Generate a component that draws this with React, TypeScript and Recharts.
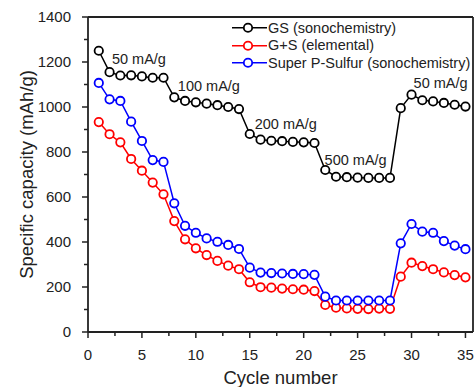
import React from 'react';
import {
  LineChart,
  Line,
  XAxis,
  YAxis,
  ReferenceLine,
  ReferenceDot,
  Legend,
} from 'recharts';

const cycles = [1, 2, 3, 4, 5, 6, 7, 8, 9, 10, 11, 12, 13, 14, 15, 16, 17, 18, 19, 20, 21, 22, 23, 24, 25, 26, 27, 28, 29, 30, 31, 32, 33, 34, 35];

const gsSono = [1250, 1155, 1140, 1141, 1136, 1130, 1130, 1043, 1027, 1021, 1015, 1008, 1000, 991, 880, 855, 850, 848, 845, 843, 840, 720, 690, 688, 686, 685, 685, 685, 995, 1055, 1030, 1025, 1018, 1010, 1002];

const gsElemental = [933, 879, 843, 769, 717, 664, 612, 493, 412, 372, 342, 316, 295, 279, 221, 199, 197, 193, 190, 188, 182, 120, 108, 105, 103, 102, 104, 103, 246, 308, 293, 279, 265, 253, 243];

const superPSono = [1107, 1034, 1027, 935, 849, 764, 756, 572, 472, 441, 416, 401, 387, 369, 286, 264, 262, 260, 258, 257, 254, 157, 140, 140, 140, 140, 140, 140, 394, 480, 446, 441, 404, 384, 368];

const seriesNames = ['GS (sonochemistry)', 'G+S (elemental)', 'Super P-Sulfur (sonochemistry)'];
const seriesKeys = ['gs', 'gps', 'sp'];
const seriesColors = ['#000000', '#ff0000', '#0000ff'];

const xTicks = [0, 2.5, 5, 7.5, 10, 12.5, 15, 17.5, 20, 22.5, 25, 27.5, 30, 32.5, 35];
const yTicks = [0, 100, 200, 300, 400, 500, 600, 700, 800, 900, 1000, 1100, 1200, 1300, 1400];

const annotationTexts = ['50 mA/g', '100 mA/g', '200 mA/g', '500 mA/g', '50 mA/g'];
const annotationX = [2.22, 8.33, 15.46, 21.94, 30.19];
const annotationY = [1213, 1093, 924, 764, 1107];

const data = cycles.map((c, i) => ({
  cycle: c,
  gs: gsSono[i],
  gps: gsElemental[i],
  sp: superPSono[i],
}));

const FONT = '"Liberation Sans", Arial, Helvetica, sans-serif';
const AXIS = '#222222';

const XTick = (props: any) => {
  const { x, y, payload } = props;
  const v = payload.value;
  const major = Math.abs(v % 5) < 1e-6;
  return (
    <g>
      <line x1={x} x2={x} y1={y} y2={y + (major ? 6 : 4)} stroke={AXIS} strokeWidth={1.5} />
      {major && (
        <text x={x} y={y + 28} textAnchor="middle" fontSize={15} fontFamily={FONT} fill="#222">
          {v}
        </text>
      )}
    </g>
  );
};

const YTick = (props: any) => {
  const { x, y, payload } = props;
  const v = payload.value;
  const major = v % 200 === 0;
  return (
    <g>
      <line x1={x} x2={x - (major ? 6 : 4)} y1={y} y2={y} stroke={AXIS} strokeWidth={1.5} />
      {major && (
        <text x={x - 17} y={y + 5} textAnchor="end" fontSize={15} fontFamily={FONT} fill="#222">
          {v}
        </text>
      )}
    </g>
  );
};

const LegendContent = () => (
  <div style={{ fontFamily: FONT, fontSize: 14.5, color: '#222' }}>
    {seriesNames.map((name, i) => (
      <div key={name} style={{ display: 'flex', alignItems: 'center', height: 17.5, whiteSpace: 'nowrap' }}>
        <svg width={38} height={17.5} style={{ display: 'block' }}>
          <line x1={2} x2={37} y1={8.75} y2={8.75} stroke={seriesColors[i]} strokeWidth={1.5} />
          <circle cx={18} cy={8.75} r={4.2} fill="#fff" stroke={seriesColors[i]} strokeWidth={1.8} />
        </svg>
        <span>{name}</span>
      </div>
    ))}
  </div>
);

const AnnLabel = (text: string) => (props: any) => {
  const vb = props.viewBox || {};
  return (
    <text x={vb.x} y={vb.y + 5} textAnchor="start" fontSize={14.5} fontFamily={FONT} fill="#222">
      {text}
    </text>
  );
};

export default function App() {
  return (
    <div style={{ position: 'absolute', left: 0, top: 0, width: 476, height: 387, background: '#fff' }}>
      <LineChart width={476} height={387} data={data} margin={{ top: 17, right: 3, bottom: 0, left: 0 }}>
        <XAxis
          type="number"
          dataKey="cycle"
          domain={[0, 35.7]}
          ticks={xTicks}
          interval={0}
          allowDataOverflow
          height={55}
          tickSize={0}
          tickMargin={0}
          tickLine={false}
          axisLine={{ stroke: AXIS, strokeWidth: 1.8 }}
          tick={<XTick />}
          label={{
            value: 'Cycle number',
            position: 'insideBottom',
            offset: 3,
            style: { fontSize: 18.5, fontFamily: FONT, fill: '#222' },
          }}
        />
        <YAxis
          type="number"
          domain={[0, 1400]}
          ticks={yTicks}
          interval={0}
          width={88}
          tickSize={0}
          tickMargin={0}
          tickLine={false}
          axisLine={{ stroke: AXIS, strokeWidth: 1.8 }}
          tick={<YTick />}
          label={{
            value: 'Specific capacity (mAh/g)',
            angle: -90,
            position: 'insideLeft',
            offset: 26,
            style: { fontSize: 18.5, fontFamily: FONT, fill: '#222', textAnchor: 'middle' },
          }}
        />
        <ReferenceLine y={1400} stroke={AXIS} strokeWidth={1.8} />
        <ReferenceLine x={35.7} stroke={AXIS} strokeWidth={1.8} />
        {seriesKeys.map((k, i) => (
          <Line
            key={k}
            dataKey={k}
            name={seriesNames[i]}
            stroke={seriesColors[i]}
            strokeWidth={1.5}
            dot={{ r: 4.2, fill: '#fff', stroke: seriesColors[i], strokeWidth: 1.8 }}
            isAnimationActive={false}
          />
        ))}
        {annotationTexts.map((t, i) => (
          <ReferenceDot
            key={i}
            x={annotationX[i]}
            y={annotationY[i]}
            r={0}
            fill="none"
            stroke="none"
            label={AnnLabel(t)}
          />
        ))}
        <Legend
          layout="vertical"
          align="center"
          verticalAlign="middle"
          wrapperStyle={{ top: 19, left: 230, width: 246 }}
          content={<LegendContent />}
        />
      </LineChart>
    </div>
  );
}
